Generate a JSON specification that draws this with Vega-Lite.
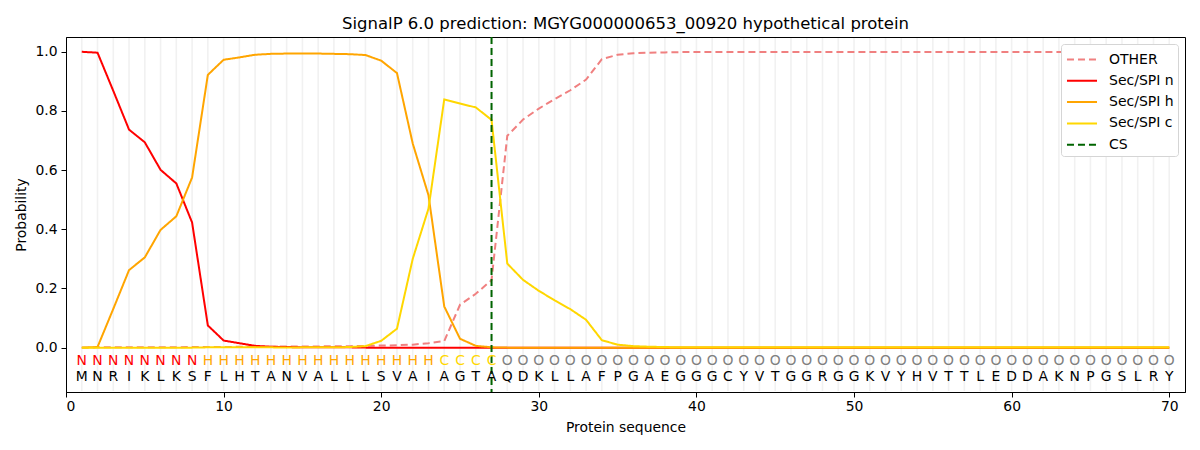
{
  "$schema": "https://vega.github.io/schema/vega-lite/v6.json",
  "width": 1119,
  "height": 355,
  "autosize": {"type": "none"},
  "padding": {"left": 66, "top": 37, "right": 15, "bottom": 58},
  "title": {
    "text": "SignalP 6.0 prediction: MGYG000000653_00920 hypothetical protein",
    "font": "DejaVu Sans",
    "fontSize": 16.5,
    "fontWeight": "normal",
    "color": "black",
    "offset": 4
  },
  "config": {
    "view": {"stroke": "black", "strokeWidth": 1},
    "font": "DejaVu Sans",
    "axis": {
      "grid": false,
      "domainColor": "black",
      "tickColor": "black",
      "tickSize": 5,
      "labelColor": "black",
      "labelFont": "DejaVu Sans",
      "labelFontSize": 13.9,
      "titleColor": "black",
      "titleFont": "DejaVu Sans",
      "titleFontSize": 13.9,
      "titleFontWeight": "normal"
    },
    "legend": {
      "title": null,
      "orient": "top-right",
      "offset": 7,
      "symbolType": "M-1.43,0H1.43",
      "symbolSize": 441,
      "symbolStrokeWidth": 2,
      "symbolOffset": 5.5,
      "labelFont": "DejaVu Sans",
      "labelFontSize": 14,
      "labelColor": "black",
      "labelOffset": 15.5,
      "padding": 4,
      "rowPadding": 2.3,
      "strokeColor": "#d5d5d5",
      "cornerRadius": 3,
      "fillColor": "white"
    }
  },
  "datasets": {
    "seq": [
      {"pos": 1, "aa": "M", "lab": "N", "OTHER": 0.000, "Sec/SPI n": 1.000, "Sec/SPI h": 0.000, "Sec/SPI c": 0.000},
      {"pos": 2, "aa": "N", "lab": "N", "OTHER": 0.001, "Sec/SPI n": 0.997, "Sec/SPI h": 0.002, "Sec/SPI c": 0.000},
      {"pos": 3, "aa": "R", "lab": "N", "OTHER": 0.001, "Sec/SPI n": 0.868, "Sec/SPI h": 0.131, "Sec/SPI c": 0.000},
      {"pos": 4, "aa": "I", "lab": "N", "OTHER": 0.001, "Sec/SPI n": 0.737, "Sec/SPI h": 0.262, "Sec/SPI c": 0.000},
      {"pos": 5, "aa": "K", "lab": "N", "OTHER": 0.001, "Sec/SPI n": 0.694, "Sec/SPI h": 0.305, "Sec/SPI c": 0.000},
      {"pos": 6, "aa": "L", "lab": "N", "OTHER": 0.001, "Sec/SPI n": 0.601, "Sec/SPI h": 0.398, "Sec/SPI c": 0.000},
      {"pos": 7, "aa": "K", "lab": "N", "OTHER": 0.001, "Sec/SPI n": 0.555, "Sec/SPI h": 0.444, "Sec/SPI c": 0.000},
      {"pos": 8, "aa": "S", "lab": "N", "OTHER": 0.002, "Sec/SPI n": 0.423, "Sec/SPI h": 0.575, "Sec/SPI c": 0.000},
      {"pos": 9, "aa": "F", "lab": "H", "OTHER": 0.002, "Sec/SPI n": 0.075, "Sec/SPI h": 0.922, "Sec/SPI c": 0.001},
      {"pos": 10, "aa": "L", "lab": "H", "OTHER": 0.002, "Sec/SPI n": 0.024, "Sec/SPI h": 0.973, "Sec/SPI c": 0.001},
      {"pos": 11, "aa": "H", "lab": "H", "OTHER": 0.003, "Sec/SPI n": 0.015, "Sec/SPI h": 0.981, "Sec/SPI c": 0.001},
      {"pos": 12, "aa": "T", "lab": "H", "OTHER": 0.003, "Sec/SPI n": 0.006, "Sec/SPI h": 0.990, "Sec/SPI c": 0.001},
      {"pos": 13, "aa": "A", "lab": "H", "OTHER": 0.003, "Sec/SPI n": 0.003, "Sec/SPI h": 0.993, "Sec/SPI c": 0.001},
      {"pos": 14, "aa": "N", "lab": "H", "OTHER": 0.004, "Sec/SPI n": 0.002, "Sec/SPI h": 0.994, "Sec/SPI c": 0.000},
      {"pos": 15, "aa": "V", "lab": "H", "OTHER": 0.004, "Sec/SPI n": 0.001, "Sec/SPI h": 0.994, "Sec/SPI c": 0.001},
      {"pos": 16, "aa": "A", "lab": "H", "OTHER": 0.004, "Sec/SPI n": 0.001, "Sec/SPI h": 0.994, "Sec/SPI c": 0.001},
      {"pos": 17, "aa": "L", "lab": "H", "OTHER": 0.005, "Sec/SPI n": 0.001, "Sec/SPI h": 0.993, "Sec/SPI c": 0.001},
      {"pos": 18, "aa": "L", "lab": "H", "OTHER": 0.005, "Sec/SPI n": 0.001, "Sec/SPI h": 0.992, "Sec/SPI c": 0.002},
      {"pos": 19, "aa": "L", "lab": "H", "OTHER": 0.006, "Sec/SPI n": 0.000, "Sec/SPI h": 0.989, "Sec/SPI c": 0.005},
      {"pos": 20, "aa": "S", "lab": "H", "OTHER": 0.007, "Sec/SPI n": 0.000, "Sec/SPI h": 0.970, "Sec/SPI c": 0.023},
      {"pos": 21, "aa": "V", "lab": "H", "OTHER": 0.008, "Sec/SPI n": 0.000, "Sec/SPI h": 0.928, "Sec/SPI c": 0.064},
      {"pos": 22, "aa": "A", "lab": "H", "OTHER": 0.010, "Sec/SPI n": 0.000, "Sec/SPI h": 0.690, "Sec/SPI c": 0.300},
      {"pos": 23, "aa": "I", "lab": "H", "OTHER": 0.015, "Sec/SPI n": 0.000, "Sec/SPI h": 0.515, "Sec/SPI c": 0.470},
      {"pos": 24, "aa": "A", "lab": "C", "OTHER": 0.022, "Sec/SPI n": 0.000, "Sec/SPI h": 0.139, "Sec/SPI c": 0.839},
      {"pos": 25, "aa": "G", "lab": "C", "OTHER": 0.145, "Sec/SPI n": 0.000, "Sec/SPI h": 0.030, "Sec/SPI c": 0.825},
      {"pos": 26, "aa": "T", "lab": "C", "OTHER": 0.182, "Sec/SPI n": 0.000, "Sec/SPI h": 0.006, "Sec/SPI c": 0.812},
      {"pos": 27, "aa": "A", "lab": "C", "OTHER": 0.228, "Sec/SPI n": 0.000, "Sec/SPI h": 0.001, "Sec/SPI c": 0.770},
      {"pos": 28, "aa": "Q", "lab": "O", "OTHER": 0.716, "Sec/SPI n": 0.000, "Sec/SPI h": 0.000, "Sec/SPI c": 0.284},
      {"pos": 29, "aa": "D", "lab": "O", "OTHER": 0.771, "Sec/SPI n": 0.000, "Sec/SPI h": 0.000, "Sec/SPI c": 0.229},
      {"pos": 30, "aa": "K", "lab": "O", "OTHER": 0.808, "Sec/SPI n": 0.000, "Sec/SPI h": 0.000, "Sec/SPI c": 0.192},
      {"pos": 31, "aa": "L", "lab": "O", "OTHER": 0.840, "Sec/SPI n": 0.000, "Sec/SPI h": 0.000, "Sec/SPI c": 0.160},
      {"pos": 32, "aa": "L", "lab": "O", "OTHER": 0.870, "Sec/SPI n": 0.000, "Sec/SPI h": 0.000, "Sec/SPI c": 0.130},
      {"pos": 33, "aa": "A", "lab": "O", "OTHER": 0.906, "Sec/SPI n": 0.000, "Sec/SPI h": 0.000, "Sec/SPI c": 0.094},
      {"pos": 34, "aa": "F", "lab": "O", "OTHER": 0.975, "Sec/SPI n": 0.000, "Sec/SPI h": 0.000, "Sec/SPI c": 0.025},
      {"pos": 35, "aa": "P", "lab": "O", "OTHER": 0.990, "Sec/SPI n": 0.000, "Sec/SPI h": 0.000, "Sec/SPI c": 0.010},
      {"pos": 36, "aa": "G", "lab": "O", "OTHER": 0.995, "Sec/SPI n": 0.000, "Sec/SPI h": 0.000, "Sec/SPI c": 0.005},
      {"pos": 37, "aa": "A", "lab": "O", "OTHER": 0.997, "Sec/SPI n": 0.000, "Sec/SPI h": 0.000, "Sec/SPI c": 0.003},
      {"pos": 38, "aa": "E", "lab": "O", "OTHER": 0.998, "Sec/SPI n": 0.000, "Sec/SPI h": 0.000, "Sec/SPI c": 0.002},
      {"pos": 39, "aa": "G", "lab": "O", "OTHER": 0.999, "Sec/SPI n": 0.000, "Sec/SPI h": 0.000, "Sec/SPI c": 0.001},
      {"pos": 40, "aa": "G", "lab": "O", "OTHER": 0.999, "Sec/SPI n": 0.000, "Sec/SPI h": 0.000, "Sec/SPI c": 0.001},
      {"pos": 41, "aa": "G", "lab": "O", "OTHER": 0.999, "Sec/SPI n": 0.000, "Sec/SPI h": 0.000, "Sec/SPI c": 0.001},
      {"pos": 42, "aa": "C", "lab": "O", "OTHER": 0.999, "Sec/SPI n": 0.000, "Sec/SPI h": 0.000, "Sec/SPI c": 0.001},
      {"pos": 43, "aa": "Y", "lab": "O", "OTHER": 0.999, "Sec/SPI n": 0.000, "Sec/SPI h": 0.000, "Sec/SPI c": 0.001},
      {"pos": 44, "aa": "V", "lab": "O", "OTHER": 0.999, "Sec/SPI n": 0.000, "Sec/SPI h": 0.000, "Sec/SPI c": 0.001},
      {"pos": 45, "aa": "T", "lab": "O", "OTHER": 0.999, "Sec/SPI n": 0.000, "Sec/SPI h": 0.000, "Sec/SPI c": 0.001},
      {"pos": 46, "aa": "G", "lab": "O", "OTHER": 0.999, "Sec/SPI n": 0.000, "Sec/SPI h": 0.000, "Sec/SPI c": 0.001},
      {"pos": 47, "aa": "G", "lab": "O", "OTHER": 0.999, "Sec/SPI n": 0.000, "Sec/SPI h": 0.000, "Sec/SPI c": 0.001},
      {"pos": 48, "aa": "R", "lab": "O", "OTHER": 0.999, "Sec/SPI n": 0.000, "Sec/SPI h": 0.000, "Sec/SPI c": 0.001},
      {"pos": 49, "aa": "G", "lab": "O", "OTHER": 0.999, "Sec/SPI n": 0.000, "Sec/SPI h": 0.000, "Sec/SPI c": 0.001},
      {"pos": 50, "aa": "G", "lab": "O", "OTHER": 0.999, "Sec/SPI n": 0.000, "Sec/SPI h": 0.000, "Sec/SPI c": 0.001},
      {"pos": 51, "aa": "K", "lab": "O", "OTHER": 0.999, "Sec/SPI n": 0.000, "Sec/SPI h": 0.000, "Sec/SPI c": 0.001},
      {"pos": 52, "aa": "V", "lab": "O", "OTHER": 0.999, "Sec/SPI n": 0.000, "Sec/SPI h": 0.000, "Sec/SPI c": 0.001},
      {"pos": 53, "aa": "Y", "lab": "O", "OTHER": 0.999, "Sec/SPI n": 0.000, "Sec/SPI h": 0.000, "Sec/SPI c": 0.001},
      {"pos": 54, "aa": "H", "lab": "O", "OTHER": 0.999, "Sec/SPI n": 0.000, "Sec/SPI h": 0.000, "Sec/SPI c": 0.001},
      {"pos": 55, "aa": "V", "lab": "O", "OTHER": 0.999, "Sec/SPI n": 0.000, "Sec/SPI h": 0.000, "Sec/SPI c": 0.001},
      {"pos": 56, "aa": "T", "lab": "O", "OTHER": 0.999, "Sec/SPI n": 0.000, "Sec/SPI h": 0.000, "Sec/SPI c": 0.001},
      {"pos": 57, "aa": "T", "lab": "O", "OTHER": 0.999, "Sec/SPI n": 0.000, "Sec/SPI h": 0.000, "Sec/SPI c": 0.001},
      {"pos": 58, "aa": "L", "lab": "O", "OTHER": 0.999, "Sec/SPI n": 0.000, "Sec/SPI h": 0.000, "Sec/SPI c": 0.001},
      {"pos": 59, "aa": "E", "lab": "O", "OTHER": 0.999, "Sec/SPI n": 0.000, "Sec/SPI h": 0.000, "Sec/SPI c": 0.001},
      {"pos": 60, "aa": "D", "lab": "O", "OTHER": 0.999, "Sec/SPI n": 0.000, "Sec/SPI h": 0.000, "Sec/SPI c": 0.001},
      {"pos": 61, "aa": "D", "lab": "O", "OTHER": 0.999, "Sec/SPI n": 0.000, "Sec/SPI h": 0.000, "Sec/SPI c": 0.001},
      {"pos": 62, "aa": "A", "lab": "O", "OTHER": 0.999, "Sec/SPI n": 0.000, "Sec/SPI h": 0.000, "Sec/SPI c": 0.001},
      {"pos": 63, "aa": "K", "lab": "O", "OTHER": 0.999, "Sec/SPI n": 0.000, "Sec/SPI h": 0.000, "Sec/SPI c": 0.001},
      {"pos": 64, "aa": "N", "lab": "O", "OTHER": 0.999, "Sec/SPI n": 0.000, "Sec/SPI h": 0.000, "Sec/SPI c": 0.001},
      {"pos": 65, "aa": "P", "lab": "O", "OTHER": 0.999, "Sec/SPI n": 0.000, "Sec/SPI h": 0.000, "Sec/SPI c": 0.001},
      {"pos": 66, "aa": "G", "lab": "O", "OTHER": 0.999, "Sec/SPI n": 0.000, "Sec/SPI h": 0.000, "Sec/SPI c": 0.001},
      {"pos": 67, "aa": "S", "lab": "O", "OTHER": 0.999, "Sec/SPI n": 0.000, "Sec/SPI h": 0.000, "Sec/SPI c": 0.001},
      {"pos": 68, "aa": "L", "lab": "O", "OTHER": 0.999, "Sec/SPI n": 0.000, "Sec/SPI h": 0.000, "Sec/SPI c": 0.001},
      {"pos": 69, "aa": "R", "lab": "O", "OTHER": 0.999, "Sec/SPI n": 0.000, "Sec/SPI h": 0.000, "Sec/SPI c": 0.001},
      {"pos": 70, "aa": "Y", "lab": "O", "OTHER": 0.999, "Sec/SPI n": 0.000, "Sec/SPI h": 0.000, "Sec/SPI c": 0.001}
    ],
    "cs": [{"pos": 27, "series": "CS"}]
  },
  "encoding": {
    "x": {
      "field": "pos",
      "type": "quantitative",
      "title": "Protein sequence",
      "scale": {"domain": [0, 71], "nice": false, "zero": false},
      "axis": {"values": [0, 10, 20, 30, 40, 50, 60, 70], "labelPadding": 2, "titlePadding": 8}
    }
  },
  "layer": [
    {
      "data": {"name": "seq"},
      "mark": {"type": "rule", "color": "#f1f1f1", "strokeWidth": 1.6},
      "encoding": {
        "y": {"datum": -0.147, "type": "quantitative"},
        "y2": {"datum": 1.047}
      }
    },
    {
      "data": {"name": "seq"},
      "transform": [
        {"fold": ["OTHER", "Sec/SPI n", "Sec/SPI h", "Sec/SPI c"], "as": ["series", "prob"]}
      ],
      "mark": {"type": "line", "strokeWidth": 2},
      "encoding": {
        "y": {
          "field": "prob",
          "type": "quantitative",
          "title": "Probability",
          "scale": {"domain": [-0.15, 1.05], "nice": false, "zero": false},
          "axis": {"values": [0, 0.2, 0.4, 0.6, 0.8, 1.0], "format": ".1f", "labelPadding": 4, "titlePadding": 6}
        },
        "color": {
          "field": "series",
          "type": "nominal",
          "scale": {
            "domain": ["OTHER", "Sec/SPI n", "Sec/SPI h", "Sec/SPI c", "CS"],
            "range": ["#f08080", "#ff0000", "#ffa500", "#ffd700", "#006400"]
          }
        },
        "strokeDash": {
          "field": "series",
          "type": "nominal",
          "scale": {
            "domain": ["OTHER", "Sec/SPI n", "Sec/SPI h", "Sec/SPI c", "CS"],
            "range": [[7, 4], [1, 0], [1, 0], [1, 0], [7, 4]]
          }
        }
      }
    },
    {
      "data": {"name": "cs"},
      "mark": {"type": "rule", "strokeWidth": 2},
      "encoding": {
        "color": {"field": "series", "type": "nominal"},
        "strokeDash": {"field": "series", "type": "nominal"}
      }
    },
    {
      "data": {"name": "seq"},
      "mark": {"type": "text", "font": "DejaVu Sans", "fontSize": 13.9, "baseline": "middle"},
      "encoding": {
        "y": {"datum": -0.045},
        "text": {"field": "lab"},
        "fill": {
          "field": "lab",
          "type": "nominal",
          "scale": {"domain": ["N", "H", "C", "O"], "range": ["#ff0000", "#ffa500", "#ffd700", "#808080"]},
          "legend": null
        }
      }
    },
    {
      "data": {"name": "seq"},
      "mark": {"type": "text", "font": "DejaVu Sans", "fontSize": 13.9, "baseline": "middle", "color": "black"},
      "encoding": {
        "y": {"datum": -0.098},
        "text": {"field": "aa"}
      }
    }
  ]
}
